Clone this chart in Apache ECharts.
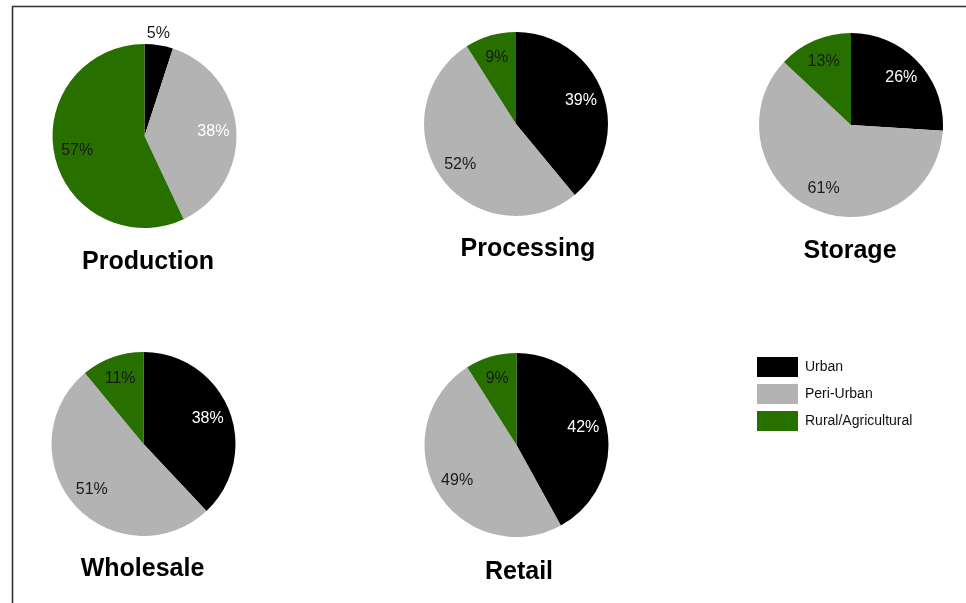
<!DOCTYPE html>
<html>
<head>
<meta charset="utf-8">
<title>Share of activity by area</title>
<script src="https://cdn.jsdelivr.net/npm/echarts@6/dist/echarts.min.js"></script>
<style>
  html, body { margin: 0; padding: 0; background: #fff; }
  #chart { width: 966px; height: 603px; }
</style>
</head>
<body>
<div id="chart"></div>
<script>
// data
var stages = ['Production', 'Processing', 'Storage', 'Wholesale', 'Retail'];
var categories = ['Urban', 'Peri-Urban', 'Rural/Agricultural'];
var urban = [5, 39, 26, 38, 42];
var periUrban = [38, 52, 61, 51, 49];
var rural = [57, 9, 13, 11, 9];

// layout, one entry per stage
var centers = [[144.5, 136], [516, 124], [851, 125], [143.5, 444], [516.5, 445]];
var titlePos = [[148, 262], [528, 249], [850, 251], [142.5, 569], [519, 572]];
var radius = 92;

var colors = ['#000000', '#b3b3b3', '#277000'];
var labelColors = ['#ffffff', '#1a1a1a', '#1a1a1a'];
var font = '"Liberation Sans", Arial, sans-serif';

var chart = echarts.init(document.getElementById('chart'));

var series = [];
var graphic = [];

// visible pies first
stages.forEach(function (name, i) {
  var vals = [urban[i], periUrban[i], rural[i]];
  series.push({
    type: 'pie',
    name: name,
    center: centers[i],
    radius: [0, radius],
    startAngle: 90,
    clockwise: true,
    silent: true,
    avoidLabelOverlap: false,
    label: { show: false },
    labelLine: { show: false },
    itemStyle: { borderWidth: 0 },
    data: categories.map(function (c, k) {
      return { name: c, value: vals[k], itemStyle: { color: colors[k] } };
    })
  });
});

// transparent rings that only carry the labels (puts them at ~0.72 r)
stages.forEach(function (name, i) {
  var vals = [urban[i], periUrban[i], rural[i]];
  series.push({
    type: 'pie',
    name: name + ' labels',
    center: centers[i],
    radius: [40, radius],
    startAngle: 90,
    clockwise: true,
    silent: true,
    avoidLabelOverlap: false,
    labelLine: { show: false },
    labelLayout: i === 0 ? function (p) {
      // the tiny 5% slice has its label sitting above the pie
      return p.dataIndex === 0 ? { dx: 3, dy: -34 } : {};
    } : null,
    data: categories.map(function (c, k) {
      var lc = labelColors[k];
      // production: 5% sits outside (dark), 38% is white on grey
      if (i === 0 && k === 0) lc = '#1a1a1a';
      if (i === 0 && k === 1) lc = '#ffffff';
      return {
        name: c,
        value: vals[k],
        itemStyle: { color: 'rgba(0,0,0,0)' },
        label: {
          show: true,
          position: 'inner',
          formatter: '{c}%',
          color: lc,
          fontSize: 16,
          fontFamily: font
        }
      };
    })
  });

  graphic.push({
    type: 'text',
    x: titlePos[i][0],
    y: titlePos[i][1],
    style: {
      text: name,
      align: 'center',
      verticalAlign: 'middle',
      fill: '#000',
      font: 'bold 25px ' + font
    }
  });
});

// frame (left and top edges)
graphic.push({
  type: 'line',
  shape: { x1: 12.5, y1: 6.5, x2: 12.5, y2: 603 },
  style: { stroke: '#333', lineWidth: 1.6 }
});
graphic.push({
  type: 'line',
  shape: { x1: 12, y1: 6.5, x2: 966, y2: 6.5 },
  style: { stroke: '#333', lineWidth: 1.6 }
});

chart.setOption({
  animation: false,
  backgroundColor: '#fff',
  legend: {
    orient: 'vertical',
    left: 757,
    top: 357,
    padding: 0,
    itemWidth: 41,
    itemHeight: 20,
    itemGap: 7,
    icon: 'rect',
    selectedMode: false,
    textStyle: { fontSize: 14, color: '#111', fontFamily: font, padding: [0, 0, 0, 2] },
    data: categories.map(function (c, k) {
      return { name: c, itemStyle: { color: colors[k] } };
    })
  },
  graphic: graphic,
  series: series
});
</script>
</body>
</html>
